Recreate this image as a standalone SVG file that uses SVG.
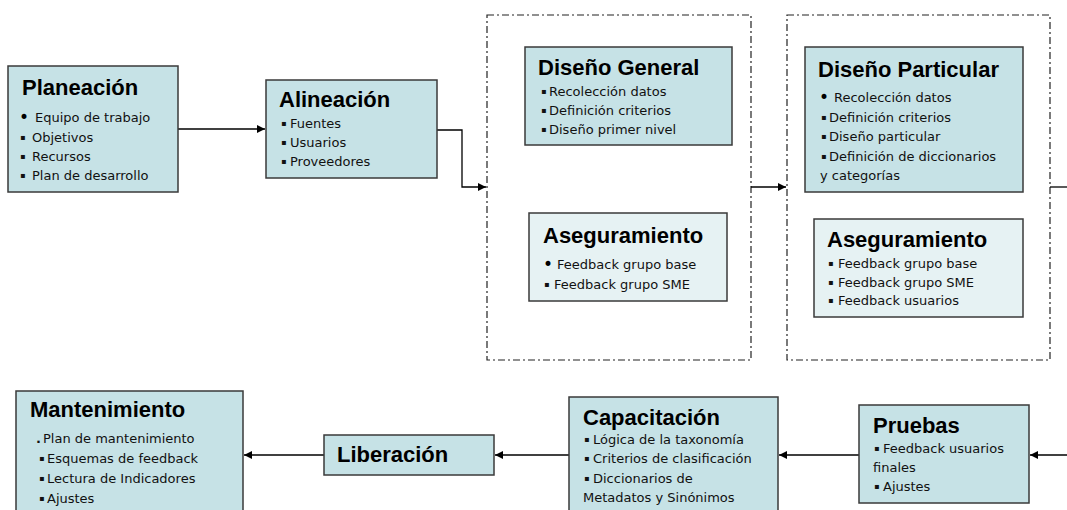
<svg xmlns="http://www.w3.org/2000/svg" width="1067" height="510" viewBox="0 0 1067 510">
<style>
.box{fill:#C6E2E6;stroke:#3a3a3a;stroke-width:1.5}
.box2{fill:#E6F2F3;stroke:#3a3a3a;stroke-width:1.5}
.grp{fill:none;stroke:#222;stroke-width:1.2;stroke-dasharray:7 3 2 3}
.t{font-family:"Liberation Sans",Arial,sans-serif;font-weight:bold;font-size:22px;fill:#000}
.i{font-family:"DejaVu Sans",sans-serif;font-size:13px;fill:#111}
.b{font-family:"DejaVu Sans",sans-serif;font-size:8px;fill:#111}
.r{font-family:"DejaVu Sans",sans-serif;font-size:17px;fill:#000}
.c{fill:none;stroke:#000;stroke-width:1.3}
</style>
<defs>
<marker id="ah" markerUnits="userSpaceOnUse" markerWidth="9" markerHeight="9" refX="8" refY="4" orient="auto">
<path d="M0,0 L8,4 L0,8 z" fill="#000"/>
</marker>
</defs>
<rect width="1067" height="510" fill="#fff"/>
<g id="grupo1"><rect class="grp" x="487" y="15" width="264" height="345"/></g>
<g id="grupo2"><rect class="grp" x="787" y="15" width="263" height="345"/></g>
<g id="connectors">
<path class="c" d="M178,129 H265" marker-end="url(#ah)"/>
<path class="c" d="M437,130 H462 V187 H486" marker-end="url(#ah)"/>
<path class="c" d="M751,187 H786" marker-end="url(#ah)"/>
<path class="c" d="M1050,187 H1067"/>
<path class="c" d="M1067,455 H1030" marker-end="url(#ah)"/>
<path class="c" d="M859,455 H779" marker-end="url(#ah)"/>
<path class="c" d="M569,455 H495" marker-end="url(#ah)"/>
<path class="c" d="M324,455 H244" marker-end="url(#ah)"/>
</g>
<g id="planeacion">
<rect class="box" x="8" y="66" width="170" height="126"/>
<text class="t" x="22" y="95">Planeación</text>
<text class="r" x="19" y="123">•</text><text class="i" x="35" y="122">Equipo de trabajo</text>
<text class="b" x="20" y="140">▪</text><text class="i" x="32" y="142">Objetivos</text>
<text class="b" x="20" y="159">▪</text><text class="i" x="32" y="161">Recursos</text>
<text class="b" x="20" y="178">▪</text><text class="i" x="32" y="180">Plan de desarrollo</text>
</g>
<g id="alineacion">
<rect class="box" x="266" y="80" width="171" height="98"/>
<text class="t" x="279" y="107">Alineación</text>
<text class="b" x="281" y="126">▪</text><text class="i" x="290" y="128">Fuentes</text>
<text class="b" x="281" y="145">▪</text><text class="i" x="290" y="147">Usuarios</text>
<text class="b" x="281" y="164">▪</text><text class="i" x="290" y="166">Proveedores</text>
</g>
<g id="disenoGeneral">
<rect class="box" x="525" y="47" width="207" height="98"/>
<text class="t" x="538" y="75">Diseño General</text>
<text class="b" x="541" y="94">▪</text><text class="i" x="549" y="96">Recolección datos</text>
<text class="b" x="541" y="113">▪</text><text class="i" x="549" y="115">Definición criterios</text>
<text class="b" x="541" y="132">▪</text><text class="i" x="549" y="134">Diseño primer nivel</text>
</g>
<g id="aseguramiento1">
<rect class="box2" x="529" y="213" width="198" height="88"/>
<text class="t" x="543" y="243">Aseguramiento</text>
<text class="r" x="543" y="270">•</text><text class="i" x="557" y="269">Feedback grupo base</text>
<text class="b" x="544" y="287">▪</text><text class="i" x="554" y="289">Feedback grupo SME</text>
</g>
<g id="disenoParticular">
<rect class="box" x="805" y="47" width="218" height="145"/>
<text class="t" x="818" y="77">Diseño Particular</text>
<text class="r" x="819" y="103">•</text><text class="i" x="834" y="102">Recolección datos</text>
<text class="b" x="821" y="120">▪</text><text class="i" x="829" y="122">Definición criterios</text>
<text class="b" x="821" y="139">▪</text><text class="i" x="829" y="141">Diseño particular</text>
<text class="b" x="821" y="159">▪</text><text class="i" x="829" y="161">Definición de diccionarios</text>
<text class="i" x="820" y="180">y categorías</text>
</g>
<g id="aseguramiento2">
<rect class="box2" x="814" y="219" width="209" height="98"/>
<text class="t" x="827" y="247">Aseguramiento</text>
<text class="b" x="828" y="266">▪</text><text class="i" x="838" y="268">Feedback grupo base</text>
<text class="b" x="828" y="285">▪</text><text class="i" x="838" y="287">Feedback grupo SME</text>
<text class="b" x="828" y="303">▪</text><text class="i" x="838" y="305">Feedback usuarios</text>
</g>
<g id="pruebas">
<rect class="box" x="859" y="405" width="170" height="98"/>
<text class="t" x="873" y="433">Pruebas</text>
<text class="b" x="874" y="451">▪</text><text class="i" x="883" y="453">Feedback usuarios</text>
<text class="i" x="873" y="472">finales</text>
<text class="b" x="874" y="489">▪</text><text class="i" x="883" y="491">Ajustes</text>
</g>
<g id="capacitacion">
<rect class="box" x="569" y="397" width="209" height="120"/>
<text class="t" x="583" y="425">Capacitación</text>
<text class="b" x="584" y="442">▪</text><text class="i" x="593" y="444">Lógica de la taxonomía</text>
<text class="b" x="584" y="461">▪</text><text class="i" x="593" y="463">Criterios de clasificación</text>
<text class="b" x="584" y="481">▪</text><text class="i" x="593" y="483">Diccionarios de</text>
<text class="i" x="583" y="502">Metadatos y Sinónimos</text>
</g>
<g id="liberacion">
<rect class="box" x="324" y="435" width="170" height="40"/>
<text class="t" x="337" y="462">Liberación</text>
</g>
<g id="mantenimiento">
<rect class="box" x="16" y="391" width="227" height="126"/>
<text class="t" x="30" y="417">Mantenimiento</text>
<text class="i" x="36" y="443" font-weight="bold">.</text><text class="i" x="43" y="443">Plan de mantenimiento</text>
<text class="b" x="39" y="461">▪</text><text class="i" x="47" y="463">Esquemas de feedback</text>
<text class="b" x="39" y="481">▪</text><text class="i" x="47" y="483">Lectura de Indicadores</text>
<text class="b" x="39" y="501">▪</text><text class="i" x="47" y="503">Ajustes</text>
</g>
</svg>
